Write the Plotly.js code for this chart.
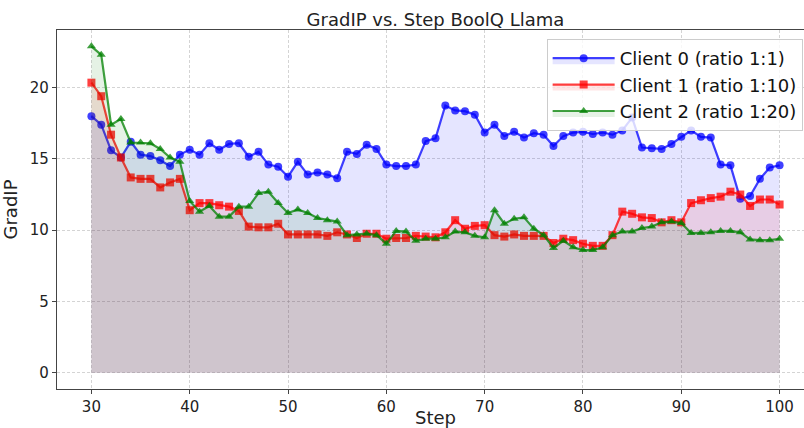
<!DOCTYPE html>
<html>
<head>
<meta charset="utf-8">
<script src="https://cdn.plot.ly/plotly-3.0.1.min.js"></script>
<style>
html,body{margin:0;padding:0;overflow:hidden;background:#fff;width:804px;height:428px;}
#chart{width:820px;height:428px;}
</style>
</head>
<body>
<div id="chart"></div>
<script>
const steps = [30,31,32,33,34,35,36,37,38,39,40,41,42,43,44,45,46,47,48,49,50,51,52,53,54,55,56,57,58,59,60,61,62,63,64,65,66,67,68,69,70,71,72,73,74,75,76,77,78,79,80,81,82,83,84,85,86,87,88,89,90,91,92,93,94,95,96,97,98,99,100];

const client0 = [18.0,17.4,15.6,15.1,16.2,15.3,15.2,14.9,14.5,15.3,
  15.65,15.3,16.1,15.65,16.05,16.1,15.15,15.5,14.6,14.45,
  13.75,14.8,13.9,14.05,13.9,13.65,15.5,15.35,16.0,15.7,
  14.6,14.5,14.5,14.6,16.25,16.45,18.75,18.4,18.35,18.1,
  16.85,17.4,16.6,16.9,16.5,16.8,16.7,15.9,16.6,16.85,
  16.9,16.75,16.85,16.7,17.0,17.9,15.8,15.75,15.7,16.05,
  16.55,17.0,16.55,16.5,14.6,14.55,12.2,12.4,13.6,14.4,
  14.55];

const client1 = [20.35,19.4,16.7,15.1,13.7,13.6,13.6,13.0,13.35,13.6,
  11.4,11.9,11.9,11.75,11.65,11.35,10.25,10.2,10.2,10.45,
  9.7,9.7,9.7,9.7,9.6,9.85,9.7,9.45,9.75,9.75,
  9.4,9.45,9.45,9.6,9.55,9.5,9.85,10.7,10.1,10.3,
  10.35,9.65,9.55,9.7,9.6,9.6,9.6,9.1,9.4,9.3,
  9.05,8.9,8.9,9.65,11.3,11.15,10.9,10.85,10.55,10.7,
  10.55,11.9,12.1,12.25,12.35,12.7,12.5,11.7,12.15,12.15,
  11.8];

const client2 = [22.9,22.3,17.4,17.8,16.15,16.15,16.1,15.7,15.1,14.8,
  12.05,11.3,11.7,10.95,10.95,11.65,11.65,12.6,12.7,11.9,
  11.2,11.45,11.2,10.85,10.7,10.6,9.65,9.7,9.75,9.65,
  9.05,9.95,9.9,9.25,9.4,9.4,9.5,9.9,9.85,9.6,
  9.5,11.4,10.45,10.8,10.9,10.1,9.65,8.75,9.25,8.8,
  8.6,8.6,8.8,9.65,9.9,9.9,10.15,10.25,10.55,10.6,
  10.5,9.8,9.8,9.85,9.95,9.95,9.85,9.35,9.3,9.3,
  9.4];

const seriesNames = ["Client 0 (ratio 1:1)", "Client 1 (ratio 1:10)", "Client 2 (ratio 1:20)"];
const xTicks = [30,40,50,60,70,80,90,100];
const yTicks = [0,5,10,15,20];

const lineColors = ["rgba(0,0,255,0.75)", "rgba(255,0,0,0.75)", "rgba(0,128,0,0.75)"];
const fillColors = ["rgba(0,0,255,0.1)", "rgba(255,0,0,0.1)", "rgba(0,128,0,0.1)"];
const symbols = ["circle", "square", "triangle-up"];
const values = [client0, client1, client2];

const traces = values.map((v, i) => ({
  x: steps, y: v, name: seriesNames[i], type: "scatter", mode: "lines+markers",
  legendgroup: "g" + i,
  fill: "tozeroy", fillcolor: fillColors[i],
  line: {color: lineColors[i], width: 2.2},
  marker: {symbol: symbols[i], size: 8, color: lineColors[i], line: {width: 0}}
}));

const font = "DejaVu Sans, sans-serif";
const layout = {
  width: 820, height: 428,
  margin: {l: 57, r: 6, t: 30, b: 39},
  paper_bgcolor: "#fff", plot_bgcolor: "#fff",
  title: {text: "GradIP vs. Step BoolQ Llama", font: {family: font, size: 18, color: "#222"}, x: 0.5, xref: "paper", y: 1, yref: "paper", yanchor: "bottom", pad: {b: 4}},
  xaxis: {
    range: [26.5, 103.5], tickvals: xTicks, ticktext: xTicks.map(String),
    showgrid: true, gridcolor: "rgba(176,176,176,0.55)", griddash: "3px,2px", gridwidth: 1,
    zeroline: false, showline: true, linecolor: "#444", linewidth: 1.2, mirror: true,
    ticks: "outside", ticklen: 4, tickcolor: "#444",
    tickfont: {family: font, size: 15, color: "#222"},
    title: {text: "Step", font: {family: font, size: 18, color: "#222"}, standoff: 2}
  },
  yaxis: {
    range: [-1.145, 24.045], tickvals: yTicks, ticktext: yTicks.map(String),
    showgrid: true, gridcolor: "rgba(176,176,176,0.55)", griddash: "3px,2px", gridwidth: 1,
    zeroline: false, showline: true, linecolor: "#444", linewidth: 1.2, mirror: true,
    ticks: "outside", ticklen: 4, tickcolor: "#444",
    tickfont: {family: font, size: 15, color: "#222"},
    title: {text: "GradIP", font: {family: font, size: 18, color: "#222"}, standoff: 8}
  },
  legend: {
    x: 0.985, y: 0.975, xanchor: "right", yanchor: "top",
    bgcolor: "rgba(255,255,255,0.8)", bordercolor: "#ccc", borderwidth: 1,
    font: {family: font, size: 18, color: "#111"},
    tracegroupgap: 0, itemwidth: 62
  },
  showlegend: true
};

Plotly.newPlot("chart", traces, layout, {displayModeBar: false, staticPlot: true});
</script>
</body>
</html>
